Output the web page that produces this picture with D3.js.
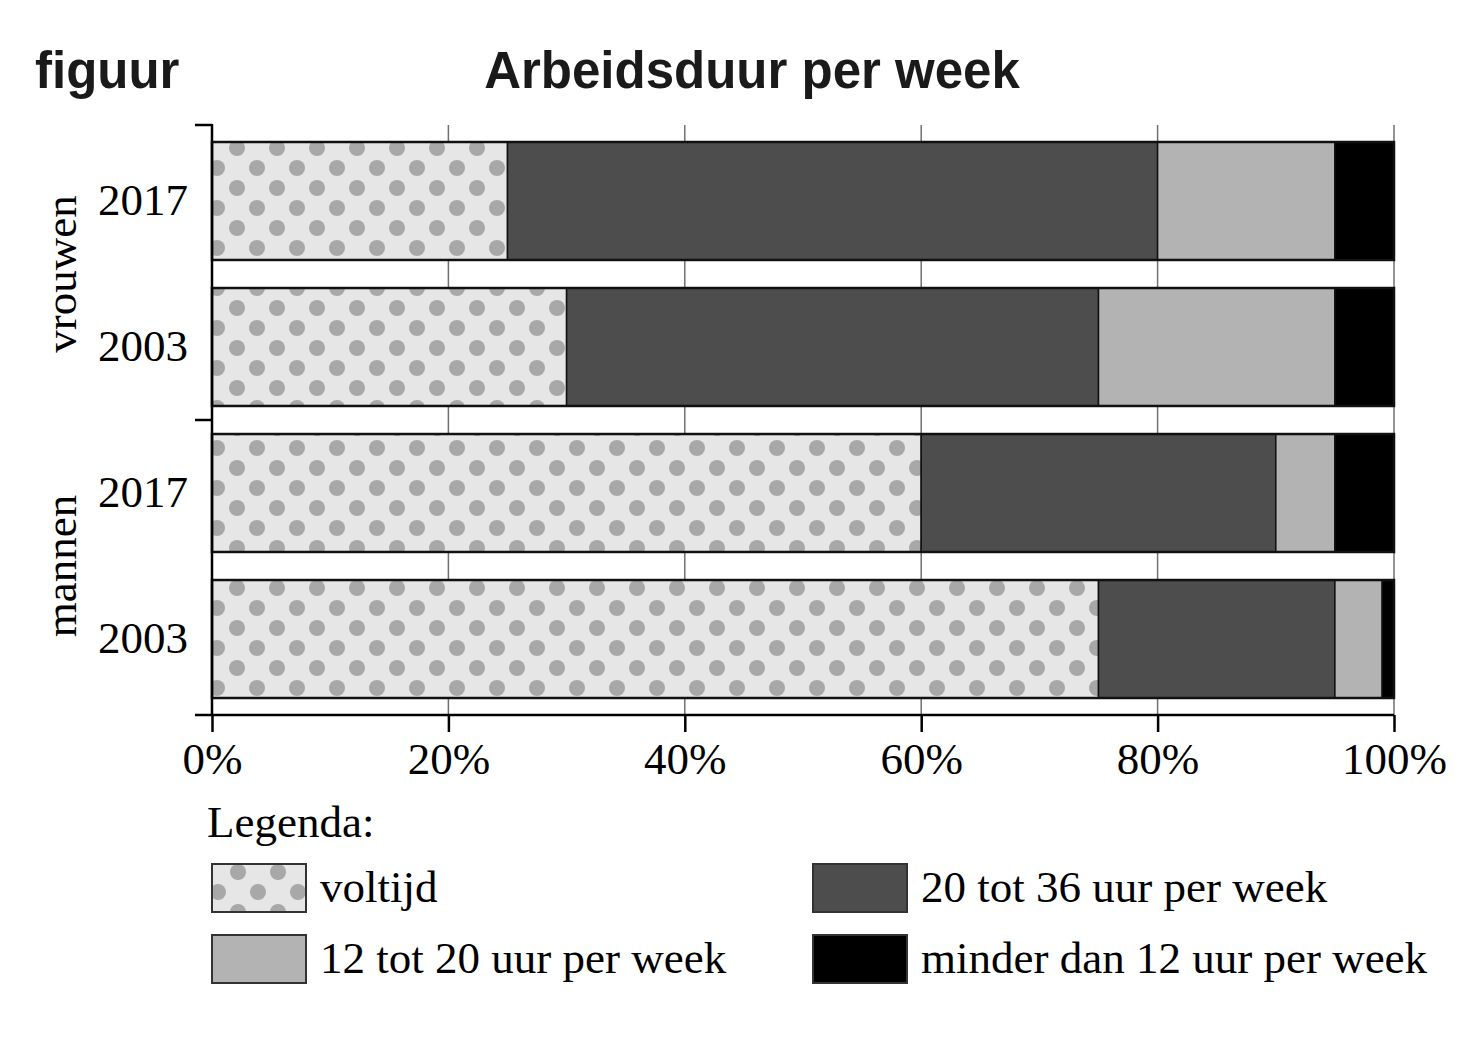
<!DOCTYPE html>
<html>
<head>
<meta charset="utf-8">
<script src="https://cdn.jsdelivr.net/npm/d3@7"></script>
<style>
  body { margin: 0; background: white; }
</style>
</head>
<body>
<div id="vis"></div>
<script>
// data
let rows = ['vrouwen 2017', 'vrouwen 2003', 'mannen 2017', 'mannen 2003'];
let yearLabels = ['2017', '2003', '2017', '2003'];
let groups = ['vrouwen', 'mannen'];
let seriesNames = ['voltijd', '20 tot 36 uur per week', '12 tot 20 uur per week', 'minder dan 12 uur per week'];
let voltijd = [25, 30, 60, 75];
let uur20tot36 = [55, 45, 30, 20];
let uur12tot20 = [15, 20, 5, 4];
let minder12 = [5, 5, 5, 1];
let xTicks = [0, 20, 40, 60, 80, 100];

let width = 1481, height = 1042;
let serif = '"Liberation Serif", "Times New Roman", serif';

let svg = d3.select('#vis')
  .append('svg')
  .attr('width', width)
  .attr('height', height)
  .style('background-color', 'white');

// dotted pattern for voltijd (dots on an offset 40x20 grid)
function dotPattern(id, ox, oy) {
  let p = svg.append('defs').append('pattern')
    .attr('id', id)
    .attr('patternUnits', 'userSpaceOnUse')
    .attr('x', ox).attr('y', oy)
    .attr('width', 40).attr('height', 40);
  p.append('rect').attr('width', 40).attr('height', 40).attr('fill', '#e6e6e6');
  [[20, 0], [20, 40], [0, 20], [40, 20]].forEach(function(c) {
    p.append('circle').attr('cx', c[0]).attr('cy', c[1]).attr('r', 8).attr('fill', '#a8a8a8');
  });
}
dotPattern('dots', 217, 148);
dotPattern('dotsLegend', 226, 868);

let colors = ['url(#dots)', '#4d4d4d', '#b3b3b3', '#000000'];

let x = d3.scaleLinear().domain([0, 100]).range([212, 1394]);
let y = d3.scaleBand().domain(rows).range([142, 698]).paddingInner(0.192).paddingOuter(0);

// table for the stack
let table = rows.map(function(r, i) {
  return { row: r, s0: voltijd[i], s1: uur20tot36[i], s2: uur12tot20[i], s3: minder12[i] };
});
let stacked = d3.stack().keys(['s0', 's1', 's2', 's3'])(table);

// gridlines
svg.append('g')
  .selectAll('line')
  .data(xTicks.slice(1))
  .enter().append('line')
  .attr('x1', d => x(d)).attr('x2', d => x(d))
  .attr('y1', 125).attr('y2', 715)
  .attr('stroke', '#707070')
  .attr('stroke-width', 1.5);

// bars
stacked.forEach(function(layer, k) {
  svg.append('g')
    .selectAll('rect')
    .data(layer)
    .enter().append('rect')
    .attr('x', d => x(d[0]))
    .attr('y', d => y(d.data.row))
    .attr('width', d => x(d[1]) - x(d[0]))
    .attr('height', y.bandwidth())
    .attr('fill', colors[k])
    .attr('stroke', '#111')
    .attr('stroke-width', 1.5);
});

// bar outlines
svg.append('g')
  .selectAll('rect')
  .data(rows)
  .enter().append('rect')
  .attr('x', x(0)).attr('y', d => y(d))
  .attr('width', x(100) - x(0)).attr('height', y.bandwidth())
  .attr('fill', 'none')
  .attr('stroke', '#111')
  .attr('stroke-width', 2.5);

// x axis
let xAxis = d3.axisBottom(x)
  .tickValues(xTicks)
  .tickFormat(d => d + '%')
  .tickSizeInner(17)
  .tickSizeOuter(0)
  .tickPadding(10);
let gx = svg.append('g')
  .attr('transform', 'translate(0,715)')
  .call(xAxis);
gx.select('.domain').remove();
gx.selectAll('.tick line').attr('stroke', '#000').attr('stroke-width', 2.5);
gx.selectAll('.tick text')
  .attr('font-family', serif)
  .attr('font-size', 45)
  .attr('fill', '#000');
gx.append('line')
  .attr('x1', 195).attr('x2', x(100))
  .attr('y1', 0).attr('y2', 0)
  .attr('stroke', '#000').attr('stroke-width', 2.5);

// y axis line and group ticks
svg.append('line')
  .attr('x1', 212).attr('x2', 212)
  .attr('y1', 124).attr('y2', 716)
  .attr('stroke', '#000').attr('stroke-width', 2.5);
svg.append('g')
  .selectAll('line')
  .data([125, 420])
  .enter().append('line')
  .attr('x1', 195).attr('x2', 212)
  .attr('y1', d => d).attr('y2', d => d)
  .attr('stroke', '#000').attr('stroke-width', 2.5);

// year labels
svg.append('g')
  .selectAll('text')
  .data(rows)
  .enter().append('text')
  .attr('x', 188)
  .attr('y', d => y(d) + y.bandwidth() / 2)
  .attr('dy', '0.32em')
  .attr('text-anchor', 'end')
  .attr('font-family', serif)
  .attr('font-size', 45)
  .text((d, i) => yearLabels[i]);

// group labels
svg.append('g')
  .selectAll('text')
  .data(groups)
  .enter().append('text')
  .attr('transform', function(d, i) {
    let cy = (y(rows[i * 2]) + y(rows[i * 2 + 1]) + y.bandwidth()) / 2;
    return 'translate(60,' + cy + ') rotate(-90)';
  })
  .attr('dy', '0.35em')
  .attr('text-anchor', 'middle')
  .attr('font-family', serif)
  .attr('font-size', 45)
  .text(d => d);

// titles
svg.append('text')
  .attr('x', 35).attr('y', 88)
  .attr('font-family', '"Liberation Sans", Arial, sans-serif')
  .attr('font-weight', 'bold')
  .attr('font-size', 51)
  .attr('fill', '#1a1a1a')
  .text('figuur');
svg.append('text')
  .attr('x', 752).attr('y', 88)
  .attr('text-anchor', 'middle')
  .attr('font-family', '"Liberation Sans", Arial, sans-serif')
  .attr('font-weight', 'bold')
  .attr('font-size', 51)
  .attr('fill', '#1a1a1a')
  .text('Arbeidsduur per week');

// legend
svg.append('text')
  .attr('x', 207).attr('y', 837)
  .attr('font-family', serif)
  .attr('font-size', 45)
  .text('Legenda:');

let legendPos = [[212, 864], [813, 864], [212, 935], [813, 935]];
let legendFill = ['url(#dotsLegend)', '#4d4d4d', '#b3b3b3', '#000000'];
let leg = svg.append('g')
  .selectAll('g')
  .data(seriesNames)
  .enter().append('g')
  .attr('transform', (d, i) => 'translate(' + legendPos[i][0] + ',' + legendPos[i][1] + ')');
leg.append('rect')
  .attr('width', 94).attr('height', 48)
  .attr('fill', (d, i) => legendFill[i])
  .attr('stroke', '#333')
  .attr('stroke-width', 2);
leg.append('text')
  .attr('x', 108).attr('y', 24)
  .attr('dy', '0.32em')
  .attr('font-family', serif)
  .attr('font-size', 45)
  .text(d => d);
</script>
</body>
</html>
